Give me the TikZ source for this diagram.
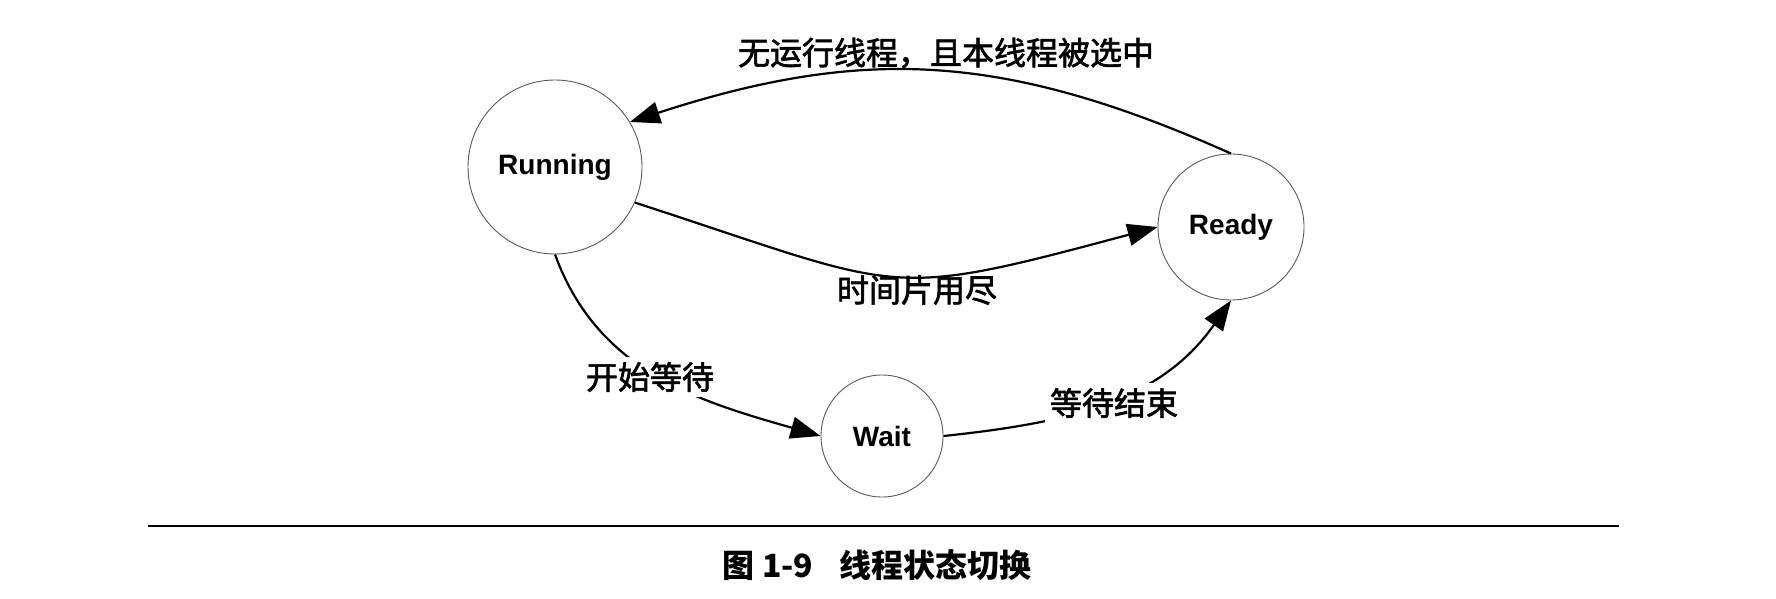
\documentclass[tikz,border=0pt]{standalone}
\usepackage{fontspec}
\setmainfont{Liberation Sans}
\newfontfamily\cjk[FakeBold=2]{Noto Sans CJK SC}
\newfontfamily\cjkcap{Noto Sans CJK SC}
\usetikzlibrary{arrows.meta}
\begin{document}
\begin{tikzpicture}[x=1pt,y=1pt,
  state/.style={circle, draw=black!65, line width=0.9pt, inner sep=0pt, font=\fontsize{28}{30}\selectfont\bfseries},
  trans/.style={line width=2.2pt, -{Triangle[length=30pt,width=22pt]}},
  lbl/.style={font=\cjk\fontsize{32}{34}\selectfont, inner sep=0pt},
  cut/.style={lbl, fill=white, inner sep=5pt}]
\useasboundingbox (0,0) rectangle (1776,598);
\node[state, minimum size=174pt] (run) at (555,431) {Running};
\node[state, minimum size=146pt] (rdy) at (1231,371) {Ready};
\node[state, minimum size=122pt] (wt) at (882,162) {Wait};
% transitions
\draw[trans] (rdy.north) to[out=156, in=18, looseness=1.05] (run.31);
\draw[trans] (run.-24) to[out=-18, in=-165, looseness=1.4] (rdy.west);
\draw[trans] (run.south) to[out=-70, in=164] (wt.west);
\draw[trans] (wt.east) to[out=6, in=-125] (rdy.south);
% labels
\node[lbl] (l1) at (946,545) {无运行线程，且本线程被选中};
\node[lbl] (l2) at (917,308) {时间片用尽};
\node[cut] (l3) at (650,221) {开始等待};
\node[cut] (l4) at (1114,195) {等待结束};
% rule and caption
\coordinate (rl) at (148,72);
\coordinate (rr) at (1619,72);
\draw[line width=2pt] (rl) -- (rr);
\node[lbl, font=\cjkcap\bfseries\fontsize{32}{34}\selectfont] (cap) at (877,33) {图 1-9\hspace{26pt}线程状态切换};
\end{tikzpicture}
\end{document}
